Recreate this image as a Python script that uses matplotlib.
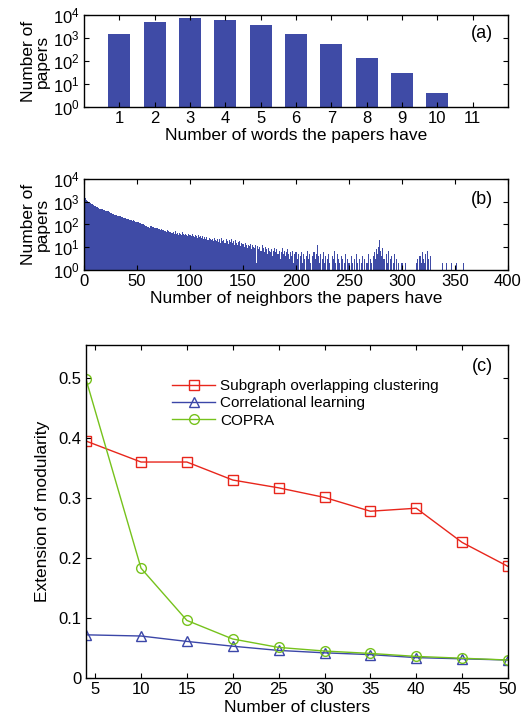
import matplotlib
matplotlib.use('Agg')
import matplotlib.pyplot as plt
import numpy as np

plt.rcParams['font.family'] = ['Liberation Sans', 'DejaVu Sans']

# (a) number of words per paper
words = [1, 2, 3, 4, 5, 6, 7, 8, 9, 10, 11]
words_count = [1500, 5000, 7400, 6000, 3700, 1500, 570, 135, 30, 4, 1]

# (b) number of neighbors per paper, degree 1..360
neigh_count = [
    1400, 1250, 1100, 1000, 950, 850, 800, 760, 700, 650, 620, 600, 560, 520, 500, 480, 460, 440, 420, 400,
    400, 390, 380, 360, 330, 320, 300, 280, 270, 260, 250, 245, 240, 230, 220, 210, 200, 195, 190, 180,
    175, 180, 165, 160, 150, 145, 150, 140, 135, 130, 125, 120, 115, 110, 100, 105, 95, 90, 85, 80,
    75, 70, 90, 85, 80, 75, 70, 68, 72, 65, 62, 60, 66, 58, 55, 50, 52, 48, 56, 50,
    45, 48, 42, 46, 40, 50, 38, 44, 36, 42, 40, 35, 46, 38, 34, 40, 36, 32, 38, 34,
    30, 40, 32, 28, 36, 30, 26, 34, 28, 31, 25, 30, 24, 28, 22, 27, 20, 26, 24, 21,
    22, 18, 26, 20, 19, 24, 17, 22, 15, 25, 18, 21, 16, 23, 19, 14, 20, 17, 22, 15,
    18, 13, 20, 16, 12, 17, 19, 11, 15, 14, 10, 16, 12, 9, 13, 11, 14, 8, 12, 10,
    9, 13, 2, 11, 8, 10, 7, 12, 9, 6, 10, 8, 5, 9, 7, 6, 8, 4, 7, 9,
    6, 8, 5, 7, 3, 6, 9, 5, 7, 4, 6, 8, 5, 3, 6, 4, 7, 2, 5, 6,
    3, 5, 0, 4, 6, 2, 5, 3, 0, 4, 7, 3, 5, 2, 0, 4, 6, 3, 5, 12,
    4, 2, 5, 0, 3, 6, 2, 4, 0, 3, 5, 2, 0, 4, 3, 7, 2, 0, 5, 3,
    2, 0, 4, 3, 0, 2, 5, 0, 3, 2, 0, 4, 2, 0, 3, 0, 5, 2, 0, 3,
    0, 2, 4, 0, 3, 0, 2, 5, 0, 3, 2, 0, 4, 6, 3, 8, 5, 10, 20, 7,
    4, 9, 3, 0, 5, 2, 7, 0, 3, 4, 0, 2, 5, 0, 3, 0, 2, 0, 0, 2,
    0, 0, 2, 0, 0, 0, 0, 0, 0, 0, 0, 0, 0, 2, 3, 0, 4, 2, 6, 3,
    2, 5, 0, 7, 3, 0, 4, 0, 0, 0, 0, 0, 0, 0, 0, 0, 0, 2, 0, 0,
    0, 2, 0, 0, 0, 0, 2, 0, 0, 0, 2, 0, 0, 0, 0, 0, 0, 2, 0, 0,
]
neigh = np.arange(1, len(neigh_count) + 1)

# (c) extension of modularity vs number of clusters
clusters = [4, 10, 15, 20, 25, 30, 35, 40, 45, 50]
subgraph = [0.395, 0.360, 0.360, 0.330, 0.317, 0.301, 0.278, 0.283, 0.226, 0.186]
correl = [0.072, 0.070, 0.061, 0.053, 0.046, 0.042, 0.039, 0.034, 0.032, 0.030]
copra = [0.498, 0.183, 0.096, 0.065, 0.051, 0.045, 0.041, 0.036, 0.033, 0.030]

bar_color = '#3f4ba6'
fs = 12

fig = plt.figure(figsize=(5.23, 7.25), dpi=100)

def style(ax):
    ax.tick_params(which='both', direction='in', top=True, right=True, labelsize=fs, pad=3)
    for s in ax.spines.values():
        s.set_linewidth(1.0)

# panel (a)
ax1 = fig.add_axes([0.1606, 0.8524, 0.8107, 0.1269])
ax1.bar(words, words_count, width=0.62, color=bar_color)
ax1.set_yscale('log')
ax1.set_ylim(1, 1e4)
ax1.set_xlim(0, 12)
ax1.set_xticks(words)
ax1.set_yticks([1, 10, 100, 1000, 10000])
ax1.set_xlabel('Number of words the papers have', fontsize=fs + 0.5, labelpad=1)
ax1.set_ylabel('Number of\npapers', fontsize=fs + 0.5, labelpad=2, linespacing=0.9)
ax1.text(0.965, 0.80, '(a)', transform=ax1.transAxes, ha='right', va='center', fontsize=fs + 1)
style(ax1)
ax1.tick_params(which='minor', left=False, right=False)

# panel (b)
ax2 = fig.add_axes([0.1606, 0.6276, 0.8107, 0.1255])
ax2.bar(neigh, neigh_count, width=1.0, color=bar_color, linewidth=0)
ax2.set_yscale('log')
ax2.set_ylim(1, 1e4)
ax2.set_xlim(0, 400)
ax2.set_xticks(np.arange(0, 401, 50))
ax2.set_yticks([1, 10, 100, 1000, 10000])
ax2.set_xlabel('Number of neighbors the papers have', fontsize=fs + 0.5, labelpad=1)
ax2.set_ylabel('Number of\npapers', fontsize=fs + 0.5, labelpad=2, linespacing=0.9)
ax2.text(0.965, 0.78, '(b)', transform=ax2.transAxes, ha='right', va='center', fontsize=fs + 1)
style(ax2)

# panel (c)
ax3 = fig.add_axes([0.1644, 0.0648, 0.8069, 0.4593])
ax3.plot(clusters, subgraph, color='#e8261c', marker='s', mfc='none', ms=6.5, lw=1.0,
         label='Subgraph overlapping clustering')
ax3.plot(clusters, correl, color='#3b46a8', marker='^', mfc='none', ms=7.5, lw=1.0,
         label='Correlational learning')
ax3.plot(clusters, copra, color='#76c21c', marker='o', mfc='none', ms=7, lw=1.0,
         label='COPRA')
ax3.set_xlim(4, 50)
ax3.set_ylim(0, 0.555)
ax3.set_xticks([5, 10, 15, 20, 25, 30, 35, 40, 45, 50])
ax3.set_yticks([0, 0.1, 0.2, 0.3, 0.4, 0.5])
ax3.set_yticklabels(['0', '0.1', '0.2', '0.3', '0.4', '0.5'])
ax3.set_xlabel('Number of clusters', fontsize=fs + 0.5, labelpad=2)
ax3.set_ylabel('Extension of modularity', fontsize=fs + 0.5, labelpad=6)
ax3.text(0.965, 0.935, '(c)', transform=ax3.transAxes, ha='right', va='center', fontsize=fs + 1)
ax3.legend(loc='upper left', bbox_to_anchor=(0.19, 0.915), frameon=False, fontsize=11,
           handlelength=2.8, handletextpad=0.35, labelspacing=0.2, borderaxespad=0)
style(ax3)

fig.savefig('out.png', dpi=100)
